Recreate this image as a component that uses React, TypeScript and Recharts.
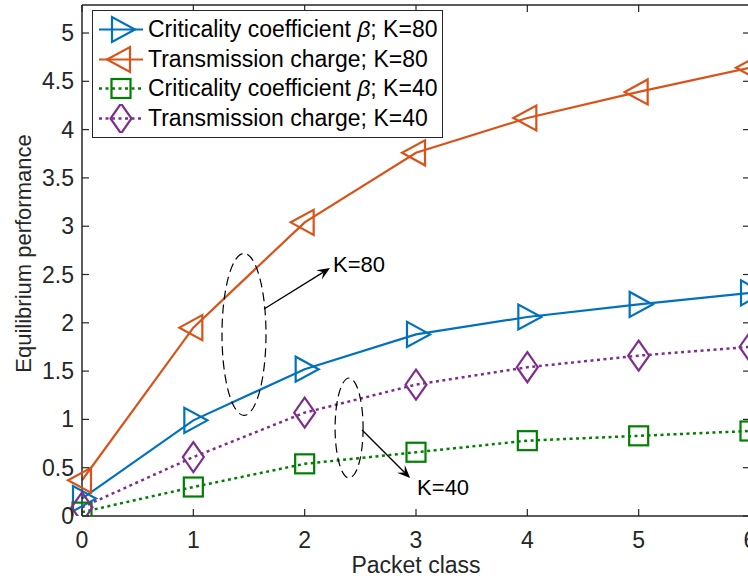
import React from "react";
import {
  LineChart,
  Line,
  XAxis,
  YAxis,
  Legend,
  ReferenceDot,
  ReferenceLine,
} from "recharts";

// packet classes on the x axis
const packetClasses = [0, 1, 2, 3, 4, 5, 6];

// equilibrium values per packet class
const criticalityK80 = [0.18, 0.99, 1.52, 1.88, 2.06, 2.19, 2.31];
const chargeK80 = [0.37, 1.95, 3.04, 3.76, 4.12, 4.39, 4.64];
const criticalityK40 = [0.04, 0.3, 0.54, 0.66, 0.78, 0.83, 0.88];
const chargeK40 = [0.09, 0.61, 1.07, 1.36, 1.54, 1.66, 1.75];

const yTicks = [0, 0.5, 1, 1.5, 2, 2.5, 3, 3.5, 4, 4.5, 5];
const xTicks = [0, 1, 2, 3, 4, 5, 6];

const FONT = '"Liberation Sans", Arial, Helvetica, sans-serif';
const AXIS = "#262626";
const TICK_FONT = 23;

type MarkerKind = "right" | "left" | "square" | "diamond";

interface SeriesDef {
  key: string;
  label: [string, string, string];
  color: string;
  dotted: boolean;
  marker: MarkerKind;
}

const series: SeriesDef[] = [
  { key: "critK80", label: ["Criticality coefficient ", "β", "; K=80"], color: "#0072BD", dotted: false, marker: "right" },
  { key: "chargeK80", label: ["Transmission charge; K=80", "", ""], color: "#D95319", dotted: false, marker: "left" },
  { key: "critK40", label: ["Criticality coefficient ", "β", "; K=40"], color: "#008000", dotted: true, marker: "square" },
  { key: "chargeK40", label: ["Transmission charge; K=40", "", ""], color: "#7E2F8E", dotted: true, marker: "diamond" },
];

const rows = packetClasses.map((c, i) => ({
  cls: c,
  critK80: criticalityK80[i],
  chargeK80: chargeK80[i],
  critK40: criticalityK40[i],
  chargeK40: chargeK40[i],
}));

const Marker = ({ kind, cx, cy, color }: { kind: MarkerKind; cx: number; cy: number; color: string }) => {
  const common = { fill: "none", stroke: color, strokeWidth: 2.2 };
  if (kind === "right")
    return <polygon points={`${cx - 9},${cy - 12.5} ${cx - 9},${cy + 12.5} ${cx + 14},${cy}`} {...common} />;
  if (kind === "left")
    return <polygon points={`${cx + 9},${cy - 12.5} ${cx + 9},${cy + 12.5} ${cx - 14},${cy}`} {...common} />;
  if (kind === "square") return <rect x={cx - 9.5} y={cy - 9.5} width={19} height={19} {...common} />;
  return <polygon points={`${cx},${cy - 15} ${cx + 10.5},${cy} ${cx},${cy + 15} ${cx - 10.5},${cy}`} {...common} />;
};

const BottomTick = (props: any) => {
  const { x, y, payload } = props;
  return (
    <g>
      <line x1={x} y1={y} x2={x} y2={y - 7} stroke={AXIS} strokeWidth={1.2} />
      <text x={x} y={y + 24} textAnchor="middle" dominantBaseline="central" fontSize={TICK_FONT} fontFamily={FONT} fill={AXIS}>
        {payload.value}
      </text>
    </g>
  );
};

const LeftTick = (props: any) => {
  const { x, y, payload } = props;
  return (
    <g>
      <line x1={x} y1={y} x2={x + 7} y2={y} stroke={AXIS} strokeWidth={1.2} />
      <text x={x - 8} y={y} textAnchor="end" dominantBaseline="central" fontSize={TICK_FONT} fontFamily={FONT} fill={AXIS}>
        {payload.value}
      </text>
    </g>
  );
};

const TopTick = (props: any) => (
  <line x1={props.x} y1={props.y} x2={props.x} y2={props.y + 7} stroke={AXIS} strokeWidth={1.2} />
);

const RightTick = (props: any) => (
  <line x1={props.x} y1={props.y} x2={props.x - 7} y2={props.y} stroke={AXIS} strokeWidth={1.2} />
);

const YTitle = (props: any) => {
  const vb = props.viewBox;
  const x = vb.x + 31;
  const y = vb.y + vb.height / 2 - 7;
  return (
    <text x={x} y={y} transform={`rotate(-90, ${x}, ${y})`} textAnchor="middle" fontSize={22} fontFamily={FONT} fill={AXIS}>
      Equilibrium performance
    </text>
  );
};

// dashed ellipse grouping the curves
const groupRing = (rx: number, ry: number) => (props: any) => (
  <ellipse cx={props.cx} cy={props.cy} rx={rx} ry={ry} fill="none" stroke="#000" strokeWidth={1.2} strokeDasharray="9 5" />
);

const noteText = (text: string) => (props: any) => (
  <text x={props.cx} y={props.cy} dominantBaseline="central" fontSize={22} fontFamily={FONT} fill="#000">
    {text}
  </text>
);

const Arrow = (props: any) => {
  const { x1, y1, x2, y2 } = props;
  const len = Math.hypot(x2 - x1, y2 - y1) || 1;
  const ux = (x2 - x1) / len;
  const uy = (y2 - y1) / len;
  const L = 13;
  const W = 5.5;
  const bx = x2 - ux * L;
  const by = y2 - uy * L;
  const nx = x2 - ux * L * 0.6;
  const ny = y2 - uy * L * 0.6;
  return (
    <g>
      <line x1={x1} y1={y1} x2={nx} y2={ny} stroke="#000" strokeWidth={1.3} />
      <polygon
        points={`${x2},${y2} ${bx - uy * W},${by + ux * W} ${nx},${ny} ${bx + uy * W},${by - ux * W}`}
        fill="#000"
      />
    </g>
  );
};

const LegendBox = () => (
  <div
    style={{
      border: `1px solid ${AXIS}`,
      background: "#fff",
      padding: "4px 0",
      width: 349,
      boxSizing: "content-box",
    }}
  >
    {series.map((s) => (
      <div key={s.key} style={{ display: "flex", alignItems: "center", height: 29.5 }}>
        <svg width={55} height={29} style={{ display: "block", flexShrink: 0 }}>
          <line
            x1={6}
            x2={50}
            y1={14.5}
            y2={14.5}
            stroke={s.color}
            strokeWidth={s.dotted ? 2.5 : 2.2}
            strokeDasharray={s.dotted ? "3 3.5" : undefined}
          />
          <Marker kind={s.marker} cx={28} cy={14.5} color={s.color} />
        </svg>
        <span style={{ fontFamily: FONT, fontSize: 23, color: "#000", whiteSpace: "nowrap" }}>
          {s.label[0]}
          {s.label[1] && <span style={{ fontStyle: "italic" }}>{s.label[1]}</span>}
          {s.label[2]}
        </span>
      </div>
    ))}
  </div>
);

export default function App() {
  return (
    <div
      style={{
        position: "absolute",
        left: 0,
        top: 0,
        width: 748,
        height: 582,
        overflow: "hidden",
        background: "#fff",
      }}
    >
      <LineChart width={760} height={582} data={rows} margin={{ top: 4, right: 9, bottom: 0, left: 0 }}>
        <XAxis
          dataKey="cls"
          type="number"
          domain={[0, 6]}
          ticks={xTicks}
          interval={0}
          tickSize={0}
          tickMargin={0}
          tickLine={false}
          tick={<BottomTick />}
          axisLine={{ stroke: AXIS, strokeWidth: 1.5 }}
          height={66}
          label={{ value: "Packet class", position: "insideBottom", offset: 9, fill: AXIS, fontSize: 23, fontFamily: FONT }}
        />
        <XAxis
          xAxisId="top"
          orientation="top"
          type="number"
          domain={[0, 6]}
          ticks={xTicks}
          interval={0}
          tickSize={0}
          tickMargin={0}
          tickLine={false}
          tick={<TopTick />}
          axisLine={{ stroke: AXIS, strokeWidth: 1.5 }}
          height={1}
          allowDataOverflow
        />
        <YAxis
          type="number"
          domain={[0, 5.29]}
          ticks={yTicks}
          interval={0}
          tickSize={0}
          tickMargin={0}
          tickLine={false}
          tick={<LeftTick />}
          axisLine={{ stroke: AXIS, strokeWidth: 1.5 }}
          width={82}
          allowDataOverflow
          label={(p: any) => <YTitle {...p} />}
        />
        <YAxis
          yAxisId="right"
          orientation="right"
          type="number"
          domain={[0, 5.29]}
          ticks={yTicks}
          interval={0}
          tickSize={0}
          tickMargin={0}
          tickLine={false}
          tick={<RightTick />}
          axisLine={{ stroke: AXIS, strokeWidth: 1.5 }}
          width={1}
          allowDataOverflow
        />

        {series.map((s) => (
          <Line
            key={s.key}
            dataKey={s.key}
            type="linear"
            stroke={s.color}
            strokeWidth={s.dotted ? 2.5 : 2.2}
            strokeDasharray={s.dotted ? "3 3.5" : undefined}
            isAnimationActive={false}
            activeDot={false}
            dot={(p: any) => <Marker key={`${s.key}-${p.index}`} kind={s.marker} cx={p.cx} cy={p.cy} color={s.color} />}
          />
        ))}

        <ReferenceDot x={1.455} y={1.88} r={0} shape={groupRing(22, 81)} />
        <ReferenceLine segment={[{ x: 1.635, y: 2.143 }, { x: 2.228, y: 2.567 }]} shape={(p: any) => <Arrow {...p} />} />
        <ReferenceDot x={2.255} y={2.6} r={0} shape={noteText("K=80")} />

        <ReferenceDot x={2.399} y={0.911} r={0} shape={groupRing(14, 50)} />
        <ReferenceLine segment={[{ x: 2.516, y: 0.89 }, { x: 2.947, y: 0.393 }]} shape={(p: any) => <Arrow {...p} />} />
        <ReferenceDot x={3.01} y={0.29} r={0} shape={noteText("K=40")} />

        <Legend
          layout="vertical"
          align="center"
          verticalAlign="middle"
          wrapperStyle={{ left: 92, top: 10, width: 351, height: "auto" }}
          content={() => <LegendBox />}
        />
      </LineChart>
    </div>
  );
}
